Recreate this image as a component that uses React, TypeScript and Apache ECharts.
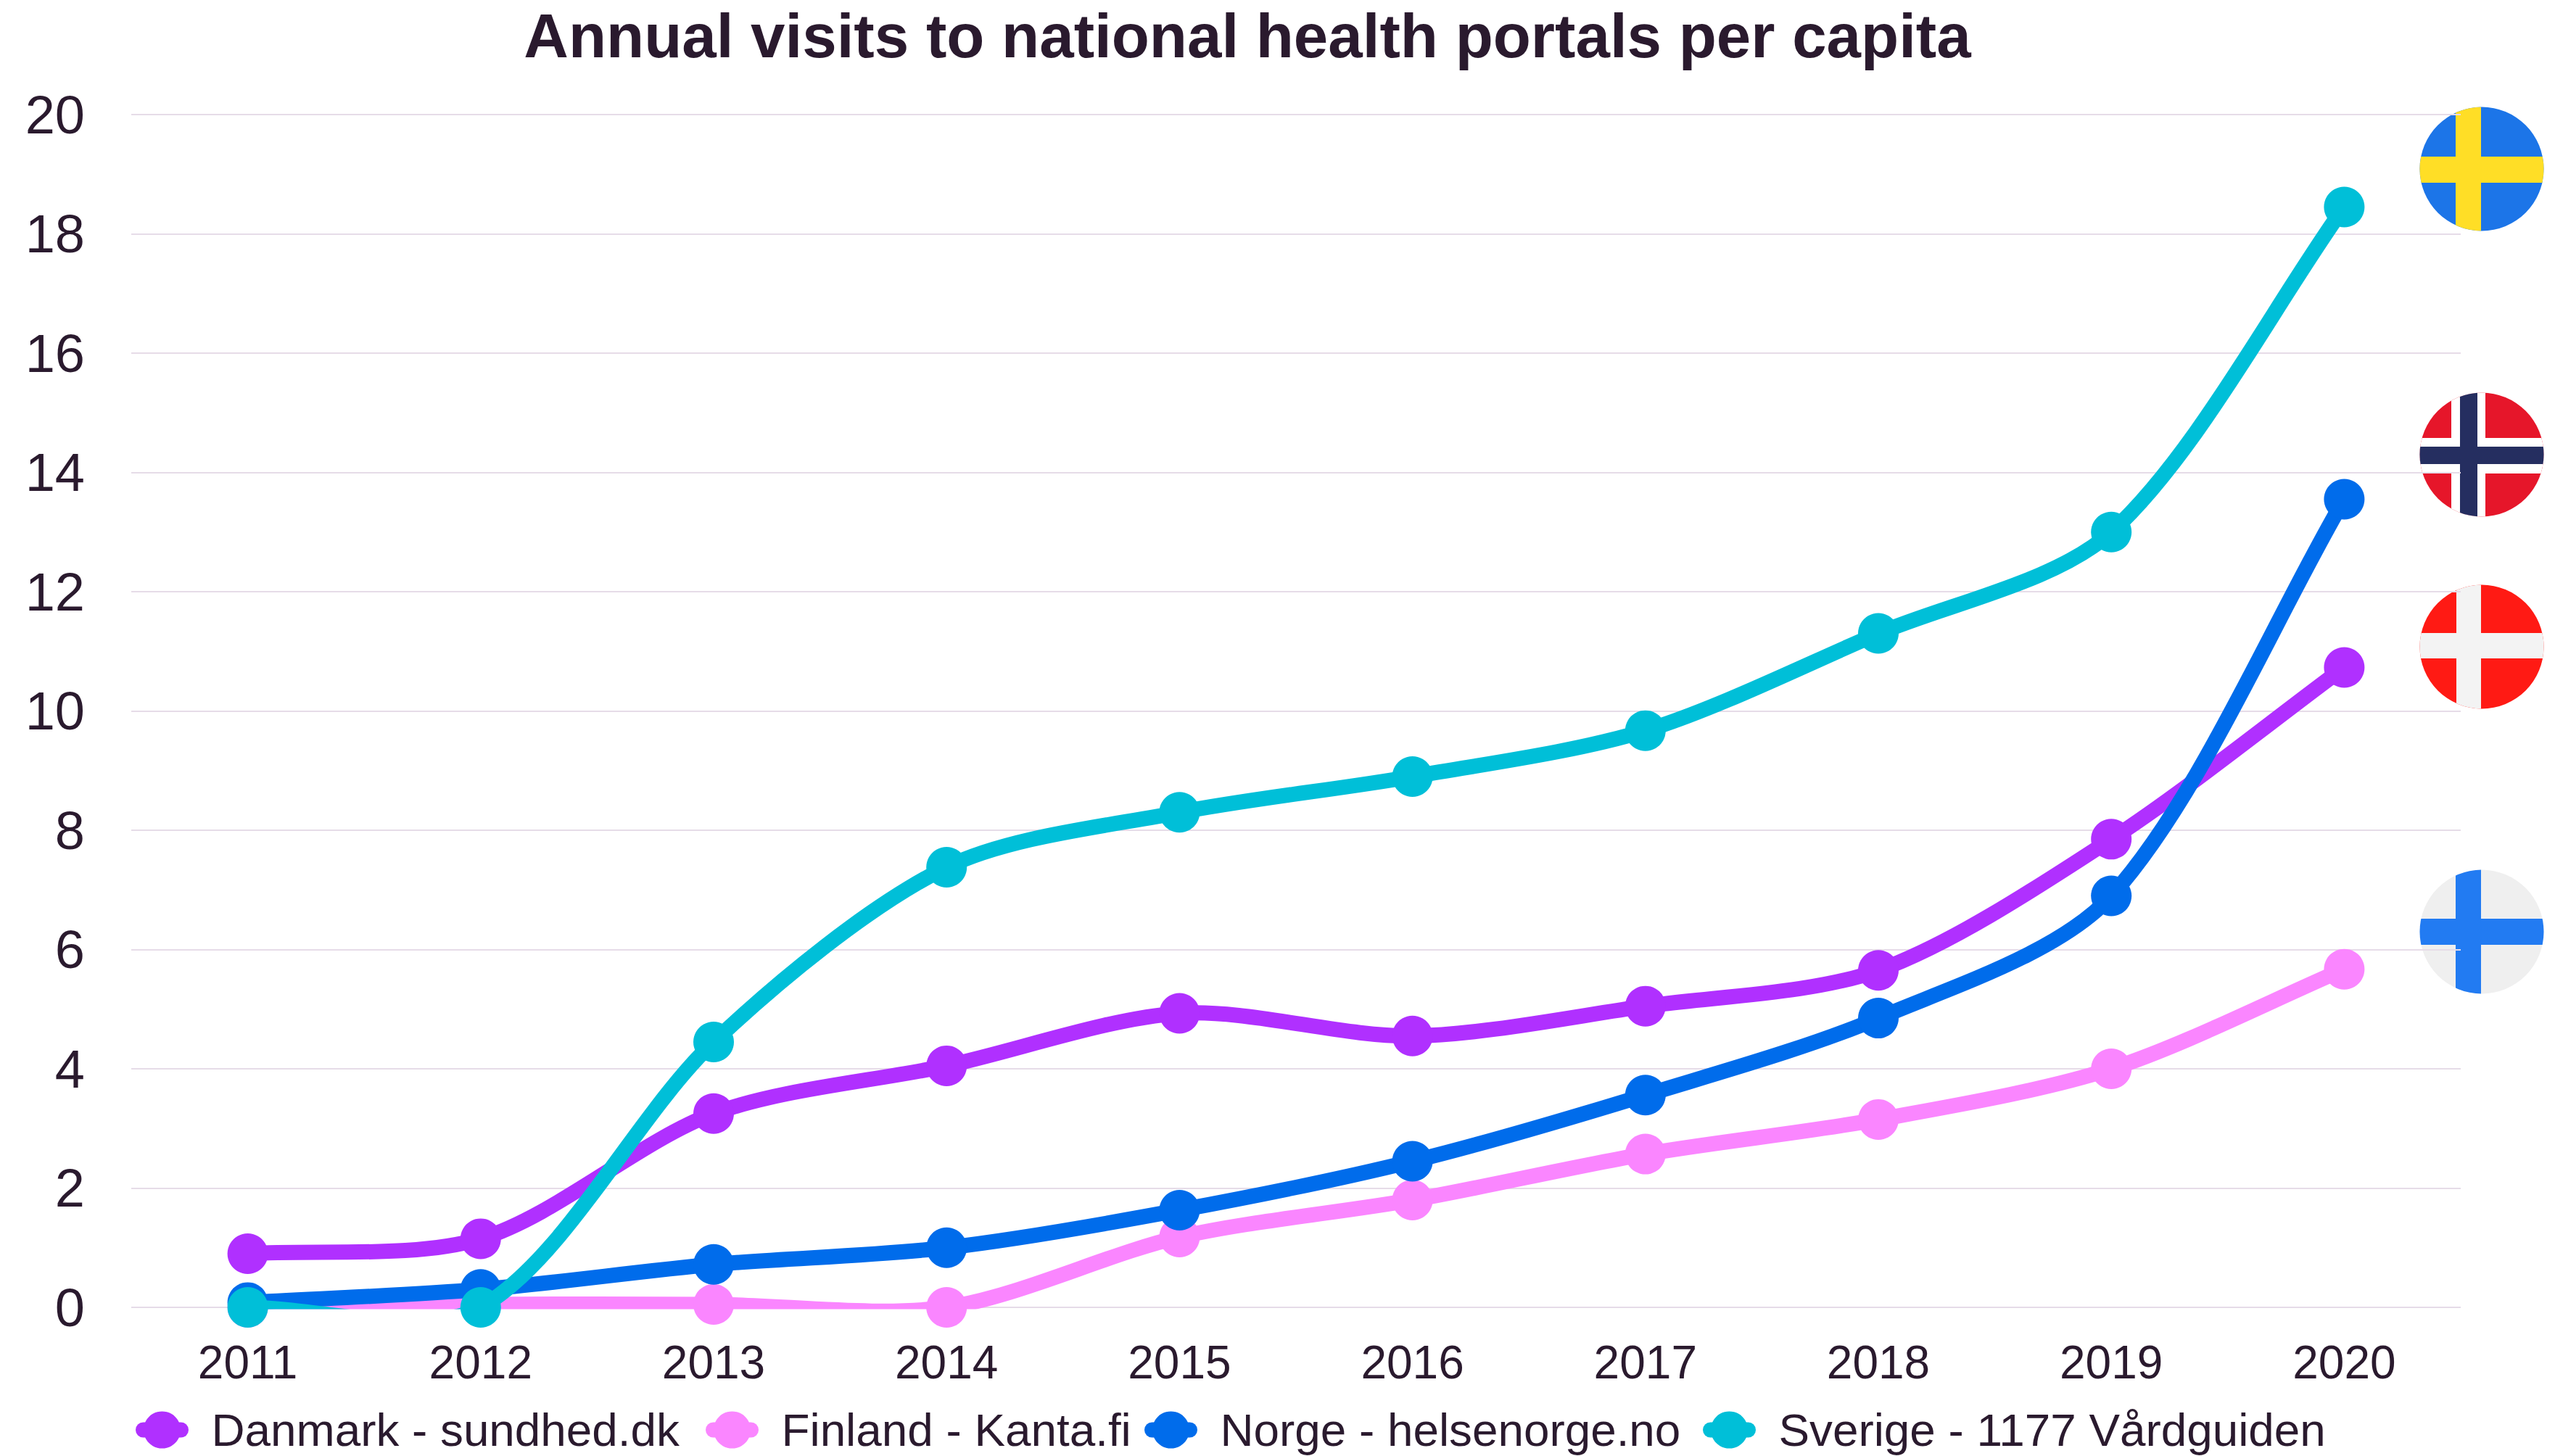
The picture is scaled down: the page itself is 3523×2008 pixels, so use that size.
import React, { useEffect, useRef } from "react";
import * as echarts from "echarts";

const titleText = "Annual visits to national health portals per capita";
const years = ["2011", "2012", "2013", "2014", "2015", "2016", "2017", "2018", "2019", "2020"];
const danmark = [0.9, 1.15, 3.25, 4.05, 4.93, 4.55, 5.05, 5.65, 7.85, 10.73];
const finland = [0.0, 0.05, 0.05, 0.0, 1.18, 1.8, 2.57, 3.15, 4.0, 5.67];
const norge = [0.08, 0.3, 0.72, 1.0, 1.63, 2.45, 3.56, 4.85, 6.9, 13.55];
const sverige = [0.0, 0.0, 4.45, 7.38, 8.3, 8.9, 9.67, 11.3, 13.0, 18.45];
const names = ["Danmark - sundhed.dk", "Finland - Kanta.fi", "Norge - helsenorge.no", "Sverige - 1177 Vårdguiden"];
const legendLefts = [187, 973, 1578, 2348];
const colors = ["#B030FF", "#FA86FF", "#006CEB", "#00BFD8"];
const INK = "#2A1A2E";
const FONT = "Liberation Sans";
const TENSION = 0.3;

function flag(bg: string, cx: [number, number, string], hy: [number, number], inner?: { x: [number, number]; y: [number, number]; fill: string }) {
  const cross = (x: [number, number], y: [number, number], fill: string) =>
    `<rect x="${x[0]}" y="0" width="${x[1] - x[0]}" height="172" fill="${fill}"/><rect x="0" y="${y[0]}" width="172" height="${y[1] - y[0]}" fill="${fill}"/>`;
  const svg = `<svg xmlns="http://www.w3.org/2000/svg" width="172" height="172" viewBox="0 0 172 172"><defs><clipPath id="c"><circle cx="86" cy="86" r="85.5"/></clipPath></defs><g clip-path="url(#c)"><rect width="172" height="172" fill="${bg}"/>${cross([cx[0], cx[1]], hy, cx[2])}${inner ? cross(inner.x, inner.y, inner.fill) : ""}</g></svg>`;
  return "data:image/svg+xml;charset=utf-8," + encodeURIComponent(svg);
}

const flagSe = flag("#1C75E8", [50, 85, "#FFDE26"], [69, 105]);
const flagNo = flag("#E6162A", [44, 91, "#FFFFFF"], [63, 112], { x: [56, 80], y: [75, 99], fill: "#252E60" });
const flagDk = flag("#FF1A14", [51, 85, "#F3F3F3"], [67, 102]);
const flagFi = flag("#EFEFEF", [50, 85, "#227BF2"], [68, 104]);

// Cubic spline through the scale-mapped points; it may undershoot the axis, where the grid clips it.
function splinePath(p: number[][]) {
  const cps: number[][] = p.map((c, i) => {
    const prev = p[i - 1] || c;
    const next = p[i + 1] || c;
    const d0 = Math.hypot(c[0] - prev[0], c[1] - prev[1]);
    const d1 = Math.hypot(next[0] - c[0], next[1] - c[1]);
    const sum = d0 + d1 || 1;
    const vx = next[0] - prev[0];
    const vy = next[1] - prev[1];
    return [
      c[0] - vx * TENSION * (d0 / sum),
      c[1] - vy * TENSION * (d0 / sum),
      c[0] + vx * TENSION * (d1 / sum),
      c[1] + vy * TENSION * (d1 / sum),
    ];
  });
  let d = `M${p[0][0]} ${p[0][1]}`;
  for (let i = 1; i < p.length; i++) {
    d += `C${cps[i - 1][2]} ${cps[i - 1][3]} ${cps[i][0]} ${cps[i][1]} ${p[i][0]} ${p[i][1]}`;
  }
  return d;
}

export default function App() {
  const ref = useRef<HTMLDivElement>(null);
  useEffect(() => {
    const chart = echarts.init(ref.current!, undefined, { renderer: "svg" });
    const data = [danmark, finland, norge, sverige];
    const curves = names.map((_, i) => ({
      type: "custom",
      name: "curve" + i,
      clip: true,
      silent: true,
      z: 2 + i * 2,
      lineStyle: { width: 5 },
      data: data[i].map((v, k) => [k, v]),
      renderItem: (params: any, api: any) => {
        if (params.dataIndex !== 0) return null;
        const pts = data[i].map((v, k) => api.coord([k, v]));
        return {
          type: "path",
          shape: { pathData: splinePath(pts) },
          style: { fill: "none", stroke: colors[i], lineWidth: 21, lineCap: "round", lineJoin: "round" },
        };
      },
    }));
    const lines = names.map((name, i) => ({
      name,
      type: "line",
      data: data[i],
      symbol: "circle",
      symbolSize: 56,
      showSymbol: true,
      lineStyle: { color: colors[i], width: 0 },
      itemStyle: { color: colors[i] },
      z: 3 + i * 2,
    }));
    chart.setOption({
      animation: false,
      backgroundColor: "#FFFFFF",
      title: {
        text: titleText,
        left: 1715,
        top: 2,
        textAlign: "center",
        textStyle: { fontFamily: FONT, fontWeight: "bold", fontSize: 85.3, color: INK },
      },
      grid: { left: 181, right: 130, top: 158, bottom: 205, containLabel: false },
      legend: names.map((name, i) => ({
        left: legendLefts[i],
        top: 1940,
        itemWidth: 52,
        itemHeight: 64,
        padding: 0,
        data: [name],
        lineStyle: { width: 21, cap: "round" },
        textStyle: { fontFamily: FONT, fontSize: 63.8, color: INK, padding: [0, 0, 0, 37] },
      })),
      xAxis: {
        type: "category",
        data: years,
        boundaryGap: true,
        axisLine: { show: false },
        axisTick: { show: false },
        axisLabel: { fontFamily: FONT, fontSize: 64, color: INK, margin: 44 },
      },
      yAxis: {
        type: "value",
        min: 0,
        max: 20,
        interval: 2,
        axisLine: { show: false },
        axisTick: { show: false },
        axisLabel: { fontFamily: FONT, fontSize: 74, color: INK, margin: 64 },
        splitLine: { lineStyle: { color: "#E6DCE8", width: 2 } },
      },
      series: [...curves, ...lines],
      graphic: [
        { type: "image", x: 3336, y: 147, style: { image: flagSe, width: 172, height: 172 } },
        { type: "image", x: 3336, y: 541, style: { image: flagNo, width: 172, height: 172 } },
        { type: "image", x: 3336, y: 806, style: { image: flagDk, width: 172, height: 172 } },
        { type: "image", x: 3336, y: 1199, style: { image: flagFi, width: 172, height: 172 } },
      ],
    });
    return () => chart.dispose();
  }, []);
  return <div ref={ref} style={{ position: "fixed", left: 0, top: 0, width: 3523, height: 2008 }} />;
}
